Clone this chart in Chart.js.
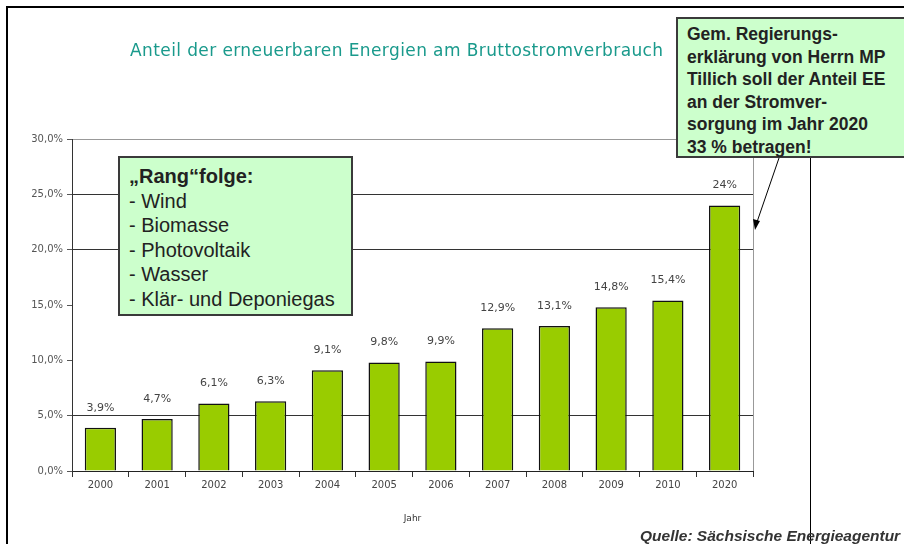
<!DOCTYPE html>
<html>
<head>
<meta charset="utf-8">
<script src="https://cdn.jsdelivr.net/npm/chart.js@4"></script>
<style>
  body { margin: 0; background: #fff; }
  #wrap { position: relative; width: 904px; height: 544px; overflow: hidden; background: #fff; }
  #chart { position: absolute; left: 0; top: 0; }
  .frame { position: absolute; left: 6px; top: 6px; width: 910px; height: 560px;
           border-top: 2px solid #000; border-left: 2px solid #000; }
  .vline { position: absolute; left: 810px; top: 157px; width: 0; height: 400px; border-left: 1.5px solid #000; }
  .title { position: absolute; left: 130px; top: 40px; font: 17px "DejaVu Sans", sans-serif;
           color: #1a9a8c; white-space: nowrap; letter-spacing: 0.4px; }
  .box { position: absolute; background: #ccffcc; border: 2px solid #3a3a3a; box-sizing: border-box;
         font-family: "Liberation Sans", Arial, sans-serif; color: #222; white-space: nowrap; }
  #rank { left: 118px; top: 156px; width: 235px; height: 160px; padding: 6px 0 0 9px;
          font-size: 20px; line-height: 24.5px; }
  #rank b { font-weight: bold; }
  #goal { left: 676px; top: 17px; width: 240px; height: 141px; padding: 4px 0 0 9px;
          font-size: 17.5px; font-weight: bold; line-height: 22.6px; }
  .source { position: absolute; left: 640px; top: 527px; font: italic bold 15.5px "Liberation Sans", Arial, sans-serif;
            color: #333; white-space: nowrap; }
  svg { position: absolute; left: 0; top: 0; }
</style>
</head>
<body>
<div id="wrap">
  <canvas id="chart" width="904" height="544"></canvas>
  <div class="frame"></div>
  <div class="vline"></div>
  <div class="title">Anteil der erneuerbaren Energien am Bruttostromverbrauch</div>
  <div class="box" id="rank"><b>„Rang“folge:</b><br>- Wind<br>- Biomasse<br>- Photovoltaik<br>- Wasser<br>- Klär- und Deponiegas</div>
  <div class="box" id="goal">Gem. Regierungs-<br>erklärung von Herrn MP<br>Tillich soll der Anteil EE<br>an der Stromver-<br>sorgung im Jahr 2020<br>33 % betragen!</div>
  <svg width="904" height="544">
    <line x1="779" y1="158" x2="757" y2="222" stroke="#000" stroke-width="1"/>
    <polygon points="755,230 753,219 760,221" fill="#000"/>
  </svg>
  <div class="source">Quelle: Sächsische Energieagentur</div>
</div>
<script>
// values
const years = ['2000', '2001', '2002', '2003', '2004', '2005', '2006', '2007', '2008', '2009', '2010', '2020'];
const shares = [3.9, 4.7, 6.1, 6.3, 9.1, 9.8, 9.9, 12.9, 13.1, 14.8, 15.4, 24];
const shareLabels = ['3,9%', '4,7%', '6,1%', '6,3%', '9,1%', '9,8%', '9,9%', '12,9%', '13,1%', '14,8%', '15,4%', '24%'];
const yTicks = [0, 5, 10, 15, 20, 25, 30];
const darkGrid = [5, 20, 25];

// value labels above the bars
const barLabels = {
  id: 'barLabels',
  afterDatasetsDraw(chart) {
    const ctx = chart.ctx;
    const meta = chart.getDatasetMeta(0);
    ctx.save();
    ctx.font = '11px "DejaVu Sans", sans-serif';
    ctx.fillStyle = '#444';
    ctx.textAlign = 'center';
    ctx.textBaseline = 'middle';
    meta.data.forEach((bar, i) => {
      ctx.fillText(shareLabels[i], bar.x, bar.y - 20);
    });
    ctx.restore();
  }
};

// gray right edge of the plot
const plotEdge = {
  id: 'plotEdge',
  beforeDatasetsDraw(chart) {
    const { ctx, chartArea } = chart;
    ctx.save();
    ctx.strokeStyle = '#999';
    ctx.lineWidth = 1;
    ctx.beginPath();
    ctx.moveTo(chartArea.right + 0.5, chartArea.top);
    ctx.lineTo(chartArea.right + 0.5, chartArea.bottom);
    ctx.stroke();
    ctx.restore();
  }
};

new Chart(document.getElementById('chart'), {
  type: 'bar',
  data: {
    labels: years,
    datasets: [{
      data: shares,
      backgroundColor: '#99cc00',
      borderColor: '#111',
      borderWidth: 1.5,
      categoryPercentage: 1,
      barPercentage: 0.55
    }]
  },
  options: {
    responsive: false,
    animation: false,
    layout: { padding: { left: 0, top: 139, right: 151, bottom: 14 } },
    plugins: {
      legend: { display: false },
      tooltip: { enabled: false }
    },
    scales: {
      x: {
        afterFit: s => { s.height = 59; },
        grid: { display: true, drawOnChartArea: false, offset: true, tickLength: 6, color: '#333' },
        border: { color: '#222', width: 1 },
        ticks: { color: '#444', font: { family: 'DejaVu Sans', size: 10 }, padding: 2, maxRotation: 0 },
        title: { display: true, text: 'Jahr', color: '#333', font: { family: 'DejaVu Sans', size: 9 }, padding: { top: 0, bottom: 6 } }
      },
      y: {
        min: 0,
        max: 30,
        afterFit: s => { s.width = 72; },
        afterBuildTicks: s => { s.ticks = yTicks.map(v => ({ value: v })); },
        grid: {
          color: c => c.tick.value === 30 ? '#999' : (darkGrid.includes(c.tick.value) ? '#333' : 'rgba(0,0,0,0)'),
          tickColor: '#555',
          tickLength: 5
        },
        border: { color: '#333', width: 1 },
        ticks: {
          color: '#555',
          padding: 4,
          font: { family: 'DejaVu Sans', size: 10 },
          callback: v => v.toFixed(1).replace('.', ',') + '%'
        }
      }
    }
  },
  plugins: [plotEdge, barLabels]
});
</script>
</body>
</html>
